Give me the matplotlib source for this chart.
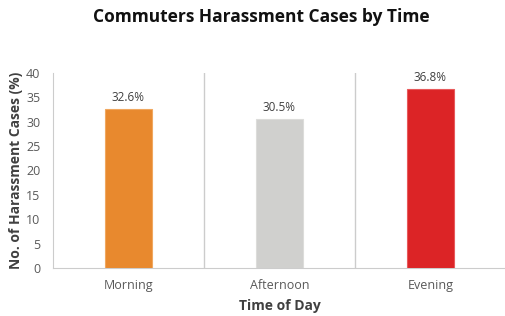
import matplotlib.pyplot as plt

plt.rcParams['font.family'] = ['Open Sans', 'DejaVu Sans']

times = ['Morning', 'Afternoon', 'Evening']
cases = [32.6, 30.5, 36.8]
colors = ['#E8892E', '#D0D0CE', '#DC2426']
edges = ['#F0A860', '#DCDCDA', '#E85A5C']

fig = plt.figure(figsize=(5.06, 3.16), dpi=100)
ax = fig.add_axes([0.1047, 0.1519, 0.8953, 0.6171])

x = list(range(len(times)))
bars = ax.bar(x, cases, width=0.31, color=colors, edgecolor=edges, linewidth=0.8, zorder=3)
for xi, v in zip(x, cases):
    ax.text(xi, v + 1.0, f'{v}%', ha='center', va='bottom', fontsize=8.5, color='#404040')

for b in [0.5, 1.5]:
    ax.axvline(b, color='#CCCCCC', linewidth=1, zorder=1)

ax.set_xlim(-0.5, 2.5)
ax.set_ylim(0, 40)
ax.set_yticks(range(0, 41, 5))
ax.set_xticks(x)
ax.set_xticklabels(times)
ax.tick_params(axis='both', length=0, labelsize=9, colors='#595959')
ax.tick_params(axis='x', pad=8)
ax.tick_params(axis='y', pad=9)

for s in ['top', 'right']:
    ax.spines[s].set_visible(False)
ax.spines['left'].set_color('#CCCCCC')
ax.spines['bottom'].set_color('#CCCCCC')

ax.set_xlabel('Time of Day', fontsize=10, fontweight='bold', color='#404040', labelpad=5)
ax.set_ylabel('No. of Harassment Cases (%)', fontsize=10, fontweight='bold', color='#404040', labelpad=2)
fig.text(0.516, 0.945, 'Commuters Harassment Cases by Time', ha='center', va='center',
         fontsize=12.5, fontweight='bold', color='#111111')

fig.savefig('out.png', dpi=100)
